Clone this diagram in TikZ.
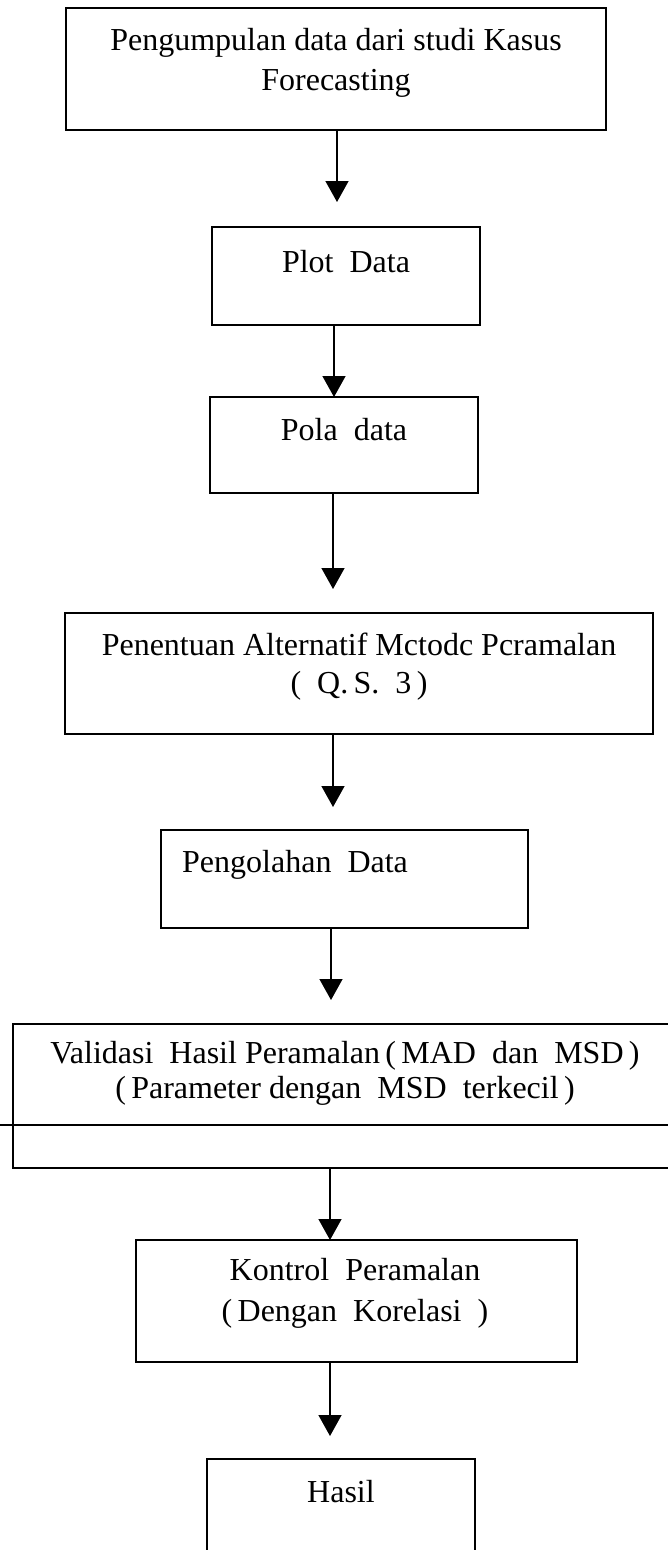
\documentclass[tikz,border=0pt]{standalone}
\usepackage{fontspec}
\setmainfont{Liberation Serif}
\usetikzlibrary{arrows.meta}
\begin{document}
\begin{tikzpicture}[x=1pt,y=-1pt,
  box/.style={draw,line width=1.6pt,anchor=north west,inner sep=0pt,outer sep=0pt},
  txt/.style={anchor=base,inner sep=0pt,font=\fontsize{32}{38}\selectfont},
  txtl/.style={anchor=base west,inner sep=0pt,font=\fontsize{32}{38}\selectfont},
  arr/.style={line width=1.4pt,-{Triangle[width=23pt,length=21pt]}}]
\useasboundingbox[fill=white] (0,0) rectangle (667,1550);
% boxes
\node[box,minimum width=540pt,minimum height=122pt] (b1) at (66,8) {};
\node[box,minimum width=268pt,minimum height=98pt] (b2) at (212,227) {};
\node[box,minimum width=268pt,minimum height=96pt] (b3) at (210,397) {};
\node[box,minimum width=588pt,minimum height=121pt] (b4) at (65,613) {};
\node[box,minimum width=367pt,minimum height=98pt] (b5) at (161,830) {};
\node[box,minimum width=690pt,minimum height=144pt] (b6) at (13,1024) {};
\node[box,minimum width=441pt,minimum height=122pt] (b7) at (136,1240) {};
\node[box,minimum width=268pt,minimum height=140pt] (b8) at (207,1459) {};
\draw[line width=1.6pt] (0,1125) -- (700,1125);
% texts
\node[txt] (t1a) at (336,50) {Pengumpulan data dari studi Kasus};
\node[txt] (t1b) at (336,90) {Forecasting};
\node[txt] (t2) at (346,272) {Plot\ \ Data};
\node[txt] (t3) at (344,440) {Pola\ \ data};
\node[txt] (t4a) at (359,655) {Penentuan Alternatif Mctodc Pcramalan};
\node[txt] (t4b) at (359,693) {(\ \ Q.\,S.\ \ 3\,)};
\node[txtl] (t5) at (182,872) {Pengolahan\ \ Data};
\node[txt] (t6a) at (345,1063) {Validasi\ \ Hasil Peramalan\,(\,MAD\ \ dan\ \ MSD\,)};
\node[txt] (t6b) at (345,1098) {(\,Parameter dengan\ \ MSD\ \ terkecil\,)};
\node[txt] (t7a) at (355,1280) {Kontrol\ \ Peramalan};
\node[txt] (t7b) at (355,1321) {(\,Dengan\ \ Korelasi\ \ )};
\node[txt] (t8) at (341,1502) {Hasil};
% arrow tips
\coordinate (p1) at (337,202);
\coordinate (p2) at (334,397);
\coordinate (p3) at (333,589);
\coordinate (p4) at (333,807);
\coordinate (p5) at (331,1000);
\coordinate (p6) at (330,1240);
\coordinate (p7) at (330,1436);
\draw[arr] (b1.south -| p1) -- (p1);
\draw[arr] (b2.south -| p2) -- (p2);
\draw[arr] (b3.south -| p3) -- (p3);
\draw[arr] (b4.south -| p4) -- (p4);
\draw[arr] (b5.south -| p5) -- (p5);
\draw[arr] (b6.south -| p6) -- (p6);
\draw[arr] (b7.south -| p7) -- (p7);
\end{tikzpicture}
\end{document}
